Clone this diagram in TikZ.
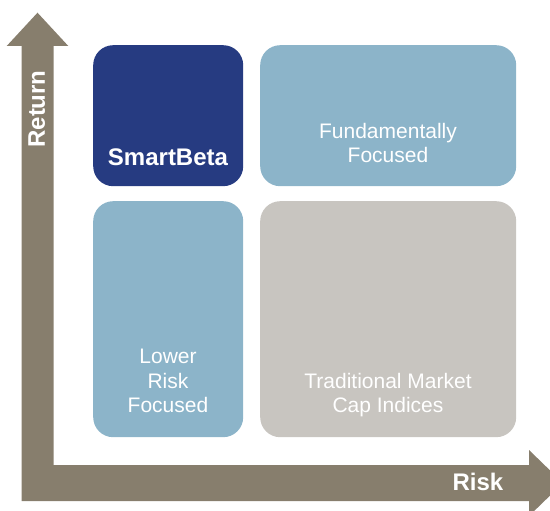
\documentclass[tikz,border=0pt]{standalone}
\usepackage{fontspec}
\setmainfont{Liberation Sans}
\definecolor{navy}{HTML}{263B81}
\definecolor{lightblue}{HTML}{8CB4C9}
\definecolor{warmgray}{HTML}{C8C5C0}
\definecolor{axisbrown}{HTML}{877E6D}
\begin{document}
\begin{tikzpicture}[x=1pt,y=-1pt,
  cell/.style={rounded corners=20pt, minimum width=#1, inner sep=0pt, draw=none},
  celltext/.style={text=white, font=\fontsize{21}{24.5}\selectfont, align=center, anchor=south, inner sep=0pt, text depth=0pt},
  axislabel/.style={text=white, font=\bfseries\fontsize{24}{28}\selectfont, inner sep=0pt, anchor=base}]
\useasboundingbox (0,0) rectangle (550,511);
\clip (0,0) rectangle (550,511);
% axes (L-shaped arrow pair)
\fill[axisbrown] (21.7,501) -- (21.7,46) -- (6.7,46) -- (37.5,12.7) -- (68.3,46) -- (53.5,46)
  -- (53.5,465) -- (529,465) -- (529,450) -- (563,483) -- (529,516) -- (529,501) -- cycle;
% cells
\node[cell=150pt, minimum height=141pt, fill=navy, anchor=north west] (sb) at (93,45) {};
\node[cell=256pt, minimum height=141pt, fill=lightblue, anchor=north west] (ff) at (260,45) {};
\node[cell=150pt, minimum height=236pt, fill=lightblue, anchor=north west] (lr) at (93,201) {};
\node[cell=256pt, minimum height=236pt, fill=warmgray, anchor=north west] (tm) at (260,201) {};
% texts
\node[axislabel] (sbt) at (168,166) {SmartBeta};
\node[celltext] (fft) at (388,163) {Fundamentally\\Focused};
\node[celltext] (lrt) at (168,413) {Lower\\Risk\\Focused};
\node[celltext] (tmt) at (388,413) {Traditional Market\\Cap Indices};
\node[axislabel, rotate=90] (ret) at (45,109) {Return};
\node[axislabel] (risk) at (478,490) {Risk};
\end{tikzpicture}
\end{document}
